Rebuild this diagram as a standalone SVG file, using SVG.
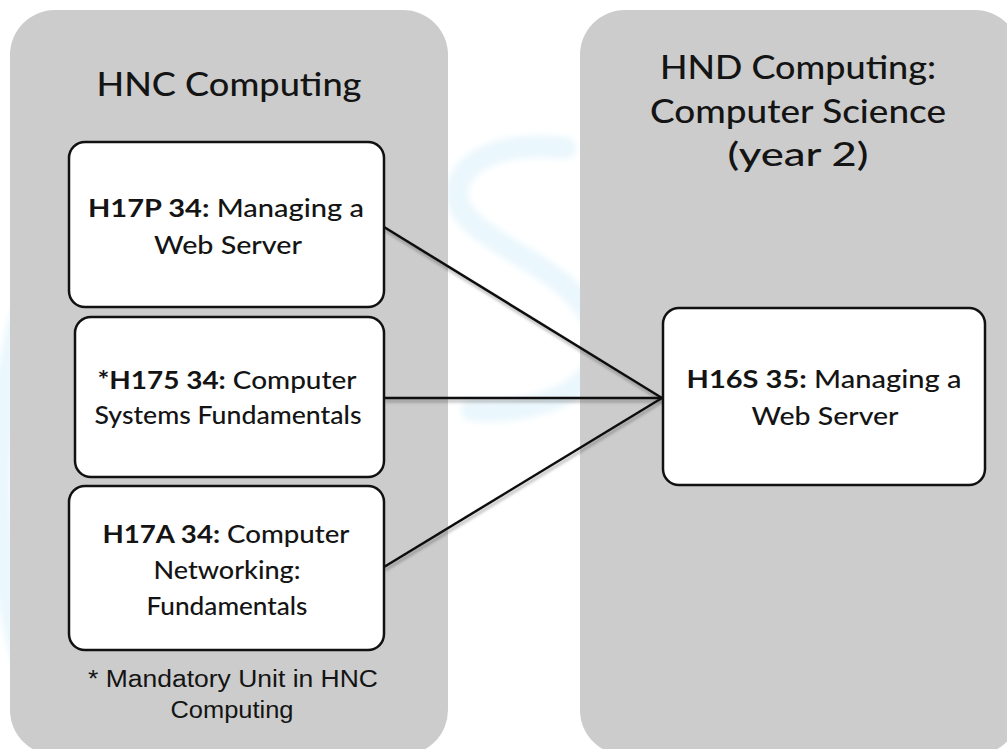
<svg xmlns="http://www.w3.org/2000/svg" width="1007" height="749" viewBox="0 0 1007 749">
  <style>
    .panel { fill: #cccccc; }
    .box { fill: #ffffff; stroke: #111111; stroke-width: 2.5; }
    .title { font-family: "Lato", "Noto Sans", sans-serif; font-size: 33px; font-weight: 500; fill: #141414; text-anchor: middle; }
    .lbl { font-family: "Lato", "Noto Sans", sans-serif; font-size: 24px; font-weight: 500; fill: #141414; text-anchor: middle; }
    .code { font-weight: 700; }
    .note { font-family: "Liberation Sans", Arial, sans-serif; font-size: 23px; fill: #141414; text-anchor: middle; }
    .conn { stroke: #111111; stroke-width: 2.5; fill: none; }
    .wm { fill: none; stroke: #eaf7fd; stroke-width: 22; stroke-linecap: round; }
  </style>
  <defs>
    <filter id="shadow" x="-10%" y="-10%" width="120%" height="130%">
      <feDropShadow dx="1" dy="3" stdDeviation="1.5" flood-color="#000000" flood-opacity="0.3"/>
    </filter>
    <filter id="soft" x="-20%" y="-20%" width="140%" height="140%">
      <feGaussianBlur stdDeviation="3"/>
    </filter>
  </defs>

  <rect x="0" y="0" width="1007" height="749" fill="#ffffff"/>

  <g id="watermark" filter="url(#soft)">
    <path class="wm" d="M565,148 C490,140 452,168 458,200 C468,248 595,268 598,345 C600,395 525,415 472,410"/>
    <path class="wm" d="M40,270 C-14,370 -14,600 40,700"/>
  </g>

  <g id="panel-hnc">
    <rect class="panel" x="10" y="10" width="438" height="745" rx="45" ry="45"/>
    <text class="title" x="229" y="96" textLength="265" lengthAdjust="spacingAndGlyphs">HNC Computing</text>
  </g>
  <g id="panel-hnd">
    <rect class="panel" x="580" y="10" width="440" height="745" rx="45" ry="45"/>
    <text class="title" x="798" y="79" textLength="276" lengthAdjust="spacingAndGlyphs">HND Computing:</text>
    <text class="title" x="798" y="123" textLength="296" lengthAdjust="spacingAndGlyphs">Computer Science</text>
    <text class="title" x="798" y="166" textLength="141" lengthAdjust="spacingAndGlyphs">(year 2)</text>
  </g>

  <g id="connectors" filter="url(#shadow)">
    <line class="conn" x1="384" y1="227" x2="662" y2="398"/>
    <line class="conn" x1="384" y1="398" x2="662" y2="398"/>
    <line class="conn" x1="384" y1="567" x2="662" y2="398"/>
  </g>

  <g id="node-h17p">
    <rect class="box" x="69" y="142" width="315" height="165" rx="16" ry="16"/>
    <text class="lbl" x="226" y="217" textLength="276" lengthAdjust="spacingAndGlyphs"><tspan class="code">H17P 34:</tspan> Managing a</text>
    <text class="lbl" x="228" y="254" textLength="148" lengthAdjust="spacingAndGlyphs">Web Server</text>
  </g>
  <g id="node-h175">
    <rect class="box" x="75" y="317" width="309" height="160" rx="16" ry="16"/>
    <text class="lbl" x="227" y="389" textLength="259" lengthAdjust="spacingAndGlyphs"><tspan class="code">*H175 34:</tspan> Computer</text>
    <text class="lbl" x="228" y="424" textLength="267" lengthAdjust="spacingAndGlyphs">Systems Fundamentals</text>
  </g>
  <g id="node-h17a">
    <rect class="box" x="69" y="486" width="315" height="164" rx="16" ry="16"/>
    <text class="lbl" x="226" y="543" textLength="247" lengthAdjust="spacingAndGlyphs"><tspan class="code">H17A 34:</tspan> Computer</text>
    <text class="lbl" x="227" y="579" textLength="147" lengthAdjust="spacingAndGlyphs">Networking:</text>
    <text class="lbl" x="227" y="615" textLength="161" lengthAdjust="spacingAndGlyphs">Fundamentals</text>
  </g>
  <g id="node-h16s">
    <rect class="box" x="663" y="308" width="322" height="177" rx="16" ry="16"/>
    <text class="lbl" x="824" y="388" textLength="275" lengthAdjust="spacingAndGlyphs"><tspan class="code">H16S 35:</tspan> Managing a</text>
    <text class="lbl" x="825" y="425" textLength="147" lengthAdjust="spacingAndGlyphs">Web Server</text>
  </g>

  <g id="footnote">
    <text class="note" x="233" y="687" textLength="290" lengthAdjust="spacingAndGlyphs">* Mandatory Unit in HNC</text>
    <text class="note" x="232" y="718" textLength="123" lengthAdjust="spacingAndGlyphs">Computing</text>
  </g>
</svg>
